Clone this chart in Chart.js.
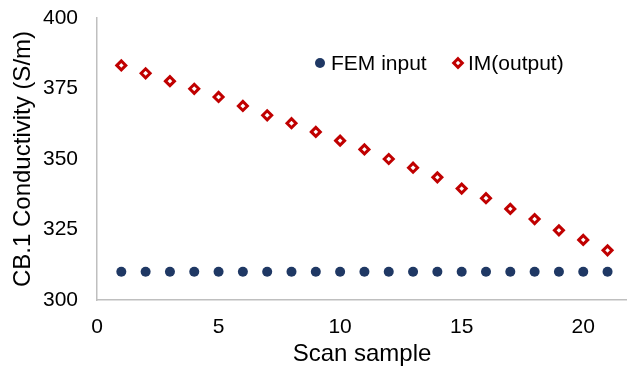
<!DOCTYPE html>
<html><head><meta charset="utf-8">
<script src="https://cdn.jsdelivr.net/npm/chart.js@4"></script>
<style>html,body{margin:0;padding:0;background:#fff;overflow:hidden}#wrap{width:627px;height:372px;position:relative}</style>
</head><body><div id="wrap"><canvas id="c" width="627" height="372"></canvas></div>
<script>
const scanSamples = [1,2,3,4,5,6,7,8,9,10,11,12,13,14,15,16,17,18,19,20,21];
const femInput = [310,310,310,310,310,310,310,310,310,310,310,310,310,310,310,310,310,310,310,310,310];
const imOutput = [383.2,380.4,377.6,374.9,372.0,368.8,365.5,362.7,359.6,356.5,353.4,350.0,346.9,343.5,339.5,336.1,332.3,328.7,324.7,321.3,317.6];
const xTicks = [0,5,10,15,20];
const yTicks = [300,325,350,375,400];
const seriesNames = ['FEM input','IM(output)'];

const FONT = "'Liberation Sans', Arial, sans-serif";
const legendPlugin = {
  id: 'customLegend',
  afterDraw(chart) {
    const ctx = chart.ctx;
    ctx.save();
    ctx.font = '21px ' + FONT;
    ctx.textBaseline = 'middle';
    const y = 63;
    ctx.beginPath(); ctx.arc(320, y, 5, 0, Math.PI*2); ctx.fillStyle = '#1F3864'; ctx.fill();
    ctx.fillStyle = '#000'; ctx.fillText(seriesNames[0], 331, y+1);
    ctx.beginPath(); ctx.moveTo(458, y-4.3); ctx.lineTo(462.3, y); ctx.lineTo(458, y+4.3); ctx.lineTo(453.7, y); ctx.closePath();
    ctx.fillStyle = '#fff'; ctx.fill(); ctx.lineWidth = 3; ctx.strokeStyle = '#C00000'; ctx.stroke();
    ctx.fillStyle = '#000'; ctx.fillText(seriesNames[1], 468, y+1);
    ctx.restore();
  }
};

new Chart(document.getElementById('c'), {
  type: 'scatter',
  data: {
    datasets: [
      { label: seriesNames[0], data: scanSamples.map((x,i)=>({x, y: femInput[i]})),
        pointStyle: 'circle', pointRadius: 5, backgroundColor: '#1F3864', borderColor: '#1F3864', borderWidth: 0 },
      { label: seriesNames[1], data: scanSamples.map((x,i)=>({x, y: imOutput[i]})),
        pointStyle: 'rectRot', pointRadius: 4.5, backgroundColor: '#fff', borderColor: '#C00000', borderWidth: 3 }
    ]
  },
  options: {
    responsive: false, animation: false, devicePixelRatio: 1,
    layout: { autoPadding: false, padding: { left: 0, right: 0, top: 0, bottom: 0 } },
    plugins: { legend: { display: false }, tooltip: { enabled: false } },
    scales: {
      x: {
        type: 'linear', min: 0, max: 21.8,
        afterBuildTicks(s) { s.ticks = xTicks.map(v => ({ value: v })); },
        afterFit(s) { s.height = 72; s.paddingLeft = 0; s.paddingRight = 0; },
        grid: { display: false, drawTicks: false },
        border: { display: true, color: '#BFBFBF', width: 1.5 },
        ticks: { color: '#000', font: { size: 21, family: FONT }, padding: 15, maxRotation: 0 },
        title: { display: true, text: 'Scan sample', color: '#000', font: { size: 24, family: FONT }, padding: { top: 3, bottom: 3 } }
      },
      y: {
        type: 'linear', min: 300, max: 400,
        afterBuildTicks(s) { s.ticks = yTicks.map(v => ({ value: v })); },
        afterFit(s) { s.width = 97; s.paddingTop = 18; s.paddingBottom = 0; },
        grid: { display: false, drawTicks: false },
        border: { display: true, color: '#BFBFBF', width: 1.5 },
        ticks: { color: '#000', font: { size: 21, family: FONT }, padding: 19 },
        title: { display: true, text: 'CB.1 Conductivity (S/m)', color: '#000', font: { size: 24, family: FONT }, padding: { top: 9, bottom: 9 } }
      }
    }
  },
  plugins: [legendPlugin]
});
</script></body></html>
